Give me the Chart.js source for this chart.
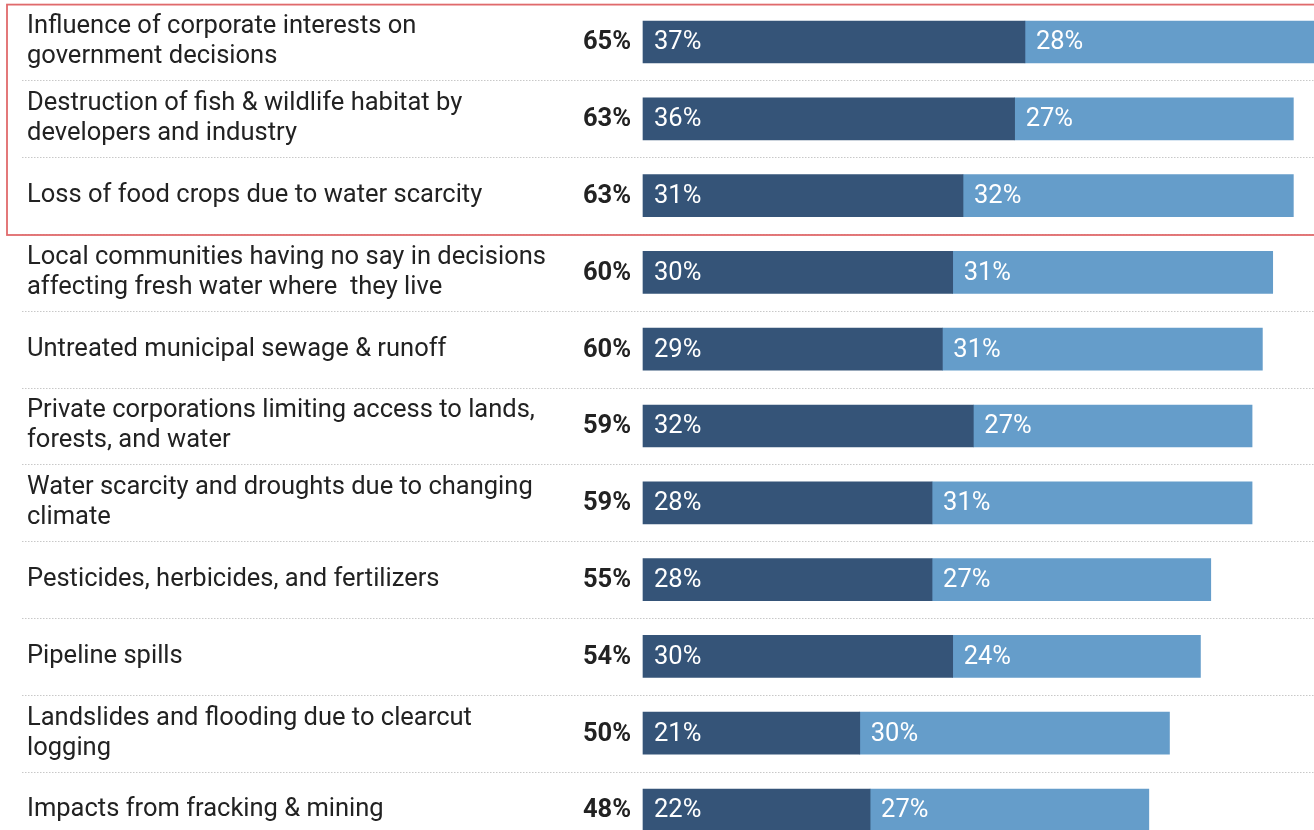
<!DOCTYPE html>
<html>
<head>
<meta charset="utf-8">
<script src="https://cdn.jsdelivr.net/npm/chart.js@4"></script>
<style>
  html, body { margin: 0; padding: 0; background: #fff; }
  #wrap { width: 1314px; height: 830px; position: relative; }
</style>
</head>
<body>
<div id="wrap"><canvas id="c"></canvas></div>
<script>
const categories = [
  ["Influence of corporate interests on", "government decisions"],
  ["Destruction of fish & wildlife habitat by", "developers and industry"],
  ["Loss of food crops due to water scarcity"],
  ["Local communities having no say in decisions", "affecting fresh water where  they live"],
  ["Untreated municipal sewage & runoff"],
  ["Private corporations limiting access to lands,", "forests, and water"],
  ["Water scarcity and droughts due to changing", "climate"],
  ["Pesticides, herbicides, and fertilizers"],
  ["Pipeline spills"],
  ["Landslides and flooding due to clearcut", "logging"],
  ["Impacts from fracking & mining"]
];
const darkValues  = [37, 36, 31, 30, 29, 32, 28, 28, 30, 21, 22];
const lightValues = [28, 27, 32, 31, 31, 27, 31, 27, 24, 30, 27];
const totalValues = [65, 63, 63, 60, 60, 59, 59, 55, 54, 50, 48];
const highlightedRows = [0, 1, 2];

const FONT = "Roboto, 'Liberation Sans', sans-serif";
const FS = 25.5;

const overlay = {
  id: 'overlay',
  afterDatasetsDraw(chart) {
    const ctx = chart.ctx;
    const y = chart.scales.y;
    const x = chart.scales.x;
    const left = x.left;
    const W = chart.width;
    const step = y.getPixelForValue(1) - y.getPixelForValue(0);
    ctx.save();
    // separators
    ctx.strokeStyle = '#c8c8c8';
    ctx.lineWidth = 1;
    ctx.setLineDash([1.5, 1.5]);
    for (let i = 0; i < categories.length - 1; i++) {
      const yy = Math.round((y.getPixelForValue(i) + y.getPixelForValue(i + 1)) / 2) + 0.5;
      ctx.beginPath();
      ctx.moveTo(22, yy);
      ctx.lineTo(W, yy);
      ctx.stroke();
    }
    ctx.setLineDash([]);
    // category labels
    ctx.fillStyle = '#222';
    ctx.font = FS + 'px ' + FONT;
    ctx.textAlign = 'left';
    ctx.textBaseline = 'middle';
    const lh = 30;
    categories.forEach((lines, i) => {
      const cy = y.getPixelForValue(i);
      const y0 = cy - (lines.length - 1) * lh / 2;
      lines.forEach((t, k) => ctx.fillText(t, 27, y0 + k * lh));
    });
    // totals
    ctx.font = 'bold ' + FS + 'px ' + FONT;
    ctx.textAlign = 'right';
    totalValues.forEach((v, i) => {
      ctx.fillText(v + '%', left - 12, y.getPixelForValue(i) + 1);
    });
    // bar value labels
    ctx.font = FS + 'px ' + FONT;
    ctx.textAlign = 'left';
    ctx.fillStyle = '#ffffff';
    chart.data.datasets.forEach((ds, di) => {
      const meta = chart.getDatasetMeta(di);
      meta.data.forEach((bar, i) => {
        const props = bar.getProps(['base', 'y'], true);
        const start = Math.min(props.base, bar.x);
        ctx.fillText(ds.data[i] + '%', start + 11, props.y + 1);
      });
    });
    // highlight box
    const top = y.getPixelForValue(highlightedRows[0]) - step / 2 + 1;
    const bot = y.getPixelForValue(highlightedRows[highlightedRows.length - 1]) + step / 2 + 1;
    ctx.strokeStyle = '#e06a6c';
    ctx.lineWidth = 1.8;
    ctx.strokeRect(7, top, W + 10, bot - top);
    ctx.restore();
  }
};

new Chart(document.getElementById('c'), {
  type: 'bar',
  data: {
    labels: categories.map(l => l.join(' ')),
    datasets: [
      { label: 'dark', data: darkValues, backgroundColor: '#355478', borderWidth: 0, barThickness: 42, clip: false },
      { label: 'light', data: lightValues, backgroundColor: '#659dca', borderWidth: 0, barThickness: 42, clip: false }
    ]
  },
  options: {
    indexAxis: 'y',
    responsive: true,
    maintainAspectRatio: false,
    animation: false,
    layout: { padding: { left: 643, right: 0, top: 42, bottom: 20 } },
    plugins: { legend: { display: false }, tooltip: { enabled: false } },
    scales: {
      x: { stacked: true, min: 0, max: 65, display: false },
      y: { stacked: true, offset: false, display: false }
    }
  },
  plugins: [overlay]
});
</script>
</body>
</html>
